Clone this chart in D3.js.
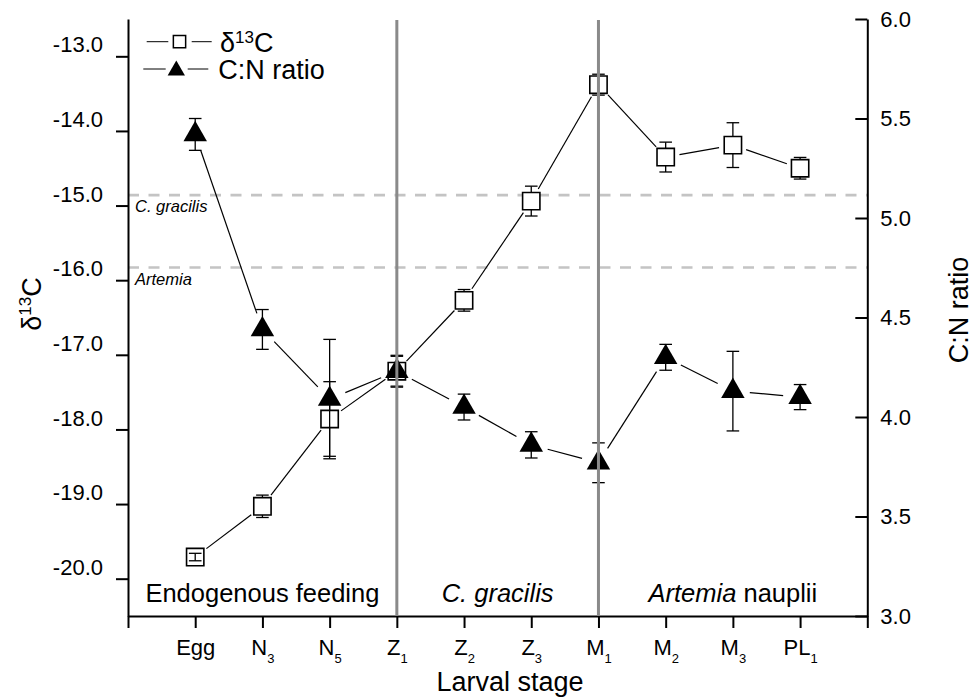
<!DOCTYPE html>
<html>
<head>
<meta charset="utf-8">
<script src="https://cdn.jsdelivr.net/npm/d3@7"></script>
<style>
body { margin: 0; background: #fff; }
svg { font-family: "Liberation Sans", Arial, sans-serif; }
</style>
</head>
<body>
<svg width="975" height="698"></svg>
<script>
// larval stages (base letter + subscript)
var stageBase = ['Egg', 'N', 'N', 'Z', 'Z', 'Z', 'M', 'M', 'M', 'PL'];
var stageSub = ['', '3', '5', '1', '2', '3', '1', '2', '3', '1'];

// delta 13C (left axis) with error
var d13C = [-19.71, -19.03, -17.86, -17.22, -16.27, -14.94, -13.38, -14.35, -14.19, -14.50];
var d13CErr = [0.05, 0.15, 0.50, 0.20, 0.145, 0.20, 0.14, 0.20, 0.30, 0.145];

// C:N ratio (right axis) with error
var cnRatio = [5.42, 4.44, 4.09, 4.23, 4.05, 3.86, 3.77, 4.30, 4.13, 4.10];
var cnErr = [0.08, 0.10, 0.30, 0.08, 0.065, 0.066, 0.10, 0.065, 0.20, 0.063];

// reference diets (d13C) and feeding periods
var dietNames = ['C. gracilis', 'Artemia'];
var dietD13C = [-14.86, -15.83];
var leftTicks = [-20, -19, -18, -17, -16, -15, -14, -13];
var rightTicks = [3.0, 3.5, 4.0, 4.5, 5.0, 5.5, 6.0];
var dividers = [4, 7];   // at Z1 and M1

var svg = d3.select('svg');
var x = d3.scaleLinear().domain([0, 11]).range([128, 867.3]);
var yL = d3.scaleLinear().domain([-20.5, -12.5]).range([616, 19]);
var yR = d3.scaleLinear().domain([3, 6]).range([616, 19]);
var pos = function(i){ return x(i + 1); };

// dashed diet lines
dietD13C.forEach(function(v, i){
	svg.append('line')
		.attr('x1', x(0)).attr('x2', x(11))
		.attr('y1', yL(v)).attr('y2', yL(v))
		.style('stroke', '#c4c4c4').style('stroke-width', 2.6)
		.style('stroke-dasharray', '11,9.5');
	svg.append('text')
		.attr('x', x(0) + 7).attr('y', yL(v) + 17)
		.style('font-size', '16.5px').style('font-style', 'italic')
		.text(dietNames[i]);
});

// period labels
var periods = [[0, 4], [4, 7], [7, 11]];
var periodText = svg.selectAll('.period').data(periods).enter().append('text')
	.attr('x', function(d){ return (x(d[0]) + x(d[1])) / 2; })
	.attr('y', 601.7)
	.attr('text-anchor', 'middle')
	.style('font-size', '25.5px');
periodText.filter(function(d, i){ return i === 0; }).text('Endogenous feeding');
periodText.filter(function(d, i){ return i === 1; }).append('tspan').style('font-style', 'italic').text('C. gracilis');
var p3 = periodText.filter(function(d, i){ return i === 2; });
p3.append('tspan').style('font-style', 'italic').text('Artemia');
p3.append('tspan').text(' nauplii');

// axes
var axL = svg.append('g').attr('transform', 'translate(' + x(0) + ',0)')
	.call(d3.axisLeft(yL).tickValues(leftTicks).tickSize(12).tickSizeOuter(0).tickPadding(13)
		.tickFormat(d3.format('.1f')));
axL.selectAll('text').attr('dy', '-0.2em').style('font-size', '22px').text(function(d){ return d3.format('.1f')(d).replace('−', '-'); });

var axR = svg.append('g').attr('transform', 'translate(' + x(11) + ',0)')
	.call(d3.axisRight(yR).tickValues(rightTicks).tickSize(-12).tickSizeOuter(0).tickPadding(13)
		.tickFormat(d3.format('.1f')));
axR.selectAll('text').style('font-size', '22px');

var axB = svg.append('g').attr('transform', 'translate(0,' + yL(-20.5) + ')')
	.call(d3.axisBottom(x).tickValues(d3.range(0, 12)).tickSize(12).tickSizeOuter(0).tickFormat(''));
axB.selectAll('.tick text').each(function(d){
	var i = d - 1;
	if (i < 0 || i > 9) return;
	var t = d3.select(this).attr('y', 39).attr('dy', 0).style('font-size', '22px');
	t.append('tspan').text(stageBase[i]);
	if (stageSub[i]) t.append('tspan').attr('dy', 8).style('font-size', '13px').text(stageSub[i]);
});
svg.selectAll('.domain').style('stroke-width', 2);
svg.selectAll('.tick line').style('stroke-width', 2);

// axis titles
var tL = svg.append('text').attr('transform', 'translate(41,304) rotate(-90)')
	.attr('text-anchor', 'middle').style('font-size', '27px');
tL.append('tspan').text('δ');
tL.append('tspan').attr('dy', -10).style('font-size', '17px').text('13');
tL.append('tspan').attr('dy', 10).text('C');
svg.append('text').attr('transform', 'translate(968,310) rotate(-90)')
	.attr('text-anchor', 'middle').style('font-size', '27px').text('C:N ratio');
svg.append('text').attr('x', 510).attr('y', 691).attr('text-anchor', 'middle')
	.style('font-size', '27px').text('Larval stage');

// connecting lines with gaps at markers
function connect(vals, y, gap){
	for (var i = 0; i < vals.length - 1; i++) {
		var x1 = pos(i), y1 = y(vals[i]), x2 = pos(i + 1), y2 = y(vals[i + 1]);
		var dx = x2 - x1, dy = y2 - y1, len = Math.sqrt(dx * dx + dy * dy);
		svg.append('line')
			.attr('x1', x1 + dx / len * gap).attr('y1', y1 + dy / len * gap)
			.attr('x2', x2 - dx / len * gap).attr('y2', y2 - dy / len * gap)
			.style('stroke', 'black').style('stroke-width', 1.2);
	}
}
connect(d13C, yL, 14);
connect(cnRatio, yR, 17);

// d13C squares, error bars outside the marker
var half = 8.65;
d13C.forEach(function(v, i){
	var cx = pos(i), cy = yL(v), up = yL(v + d13CErr[i]), dn = yL(v - d13CErr[i]);
	svg.append('path').attr('d', d3.symbol(d3.symbolSquare, 300)())
		.attr('transform', 'translate(' + cx + ',' + cy + ')')
		.style('fill', 'white').style('stroke', 'black').style('stroke-width', 1.6);
	var segs = (cy - up > half) ? [[cy - half, up], [cy + half, dn]] : [[up, dn]];
	segs.forEach(function(s){
		svg.append('line').attr('x1', cx).attr('x2', cx).attr('y1', s[0]).attr('y2', s[1])
			.style('stroke', 'black').style('stroke-width', 1.3);
	});
	[up, dn].forEach(function(yy){
		svg.append('line').attr('x1', cx - 6.3).attr('x2', cx + 6.3).attr('y1', yy).attr('y2', yy)
			.style('stroke', 'black').style('stroke-width', 1.3);
	});
});

// C:N triangles
cnRatio.forEach(function(v, i){
	var cx = pos(i), up = yR(v + cnErr[i]), dn = yR(v - cnErr[i]);
	svg.append('line').attr('x1', cx).attr('x2', cx).attr('y1', up).attr('y2', dn)
		.style('stroke', 'black').style('stroke-width', 1.3);
	[up, dn].forEach(function(yy){
		svg.append('line').attr('x1', cx - 6.3).attr('x2', cx + 6.3).attr('y1', yy).attr('y2', yy)
			.style('stroke', 'black').style('stroke-width', 1.3);
	});
	svg.append('path').attr('d', d3.symbol(d3.symbolTriangle, 239)())
		.attr('transform', 'translate(' + cx + ',' + yR(v) + ')')
		.style('fill', 'black');
});

// stage dividers drawn over the data
dividers.forEach(function(d){
	svg.append('line').attr('x1', x(d)).attr('x2', x(d)).attr('y1', 20).attr('y2', 616)
		.style('stroke', '#8a8a8a').style('stroke-width', 3);
});

// legend
var lg = svg.append('g');
lg.append('line').attr('x1', 146.7).attr('x2', 168.3).attr('y1', 41.7).attr('y2', 41.7).style('stroke', 'black');
lg.append('line').attr('x1', 191.7).attr('x2', 211.7).attr('y1', 41.7).attr('y2', 41.7).style('stroke', 'black');
lg.append('path').attr('d', d3.symbol(d3.symbolSquare, 151)()).attr('transform', 'translate(179.5,41.7)')
	.style('fill', 'white').style('stroke', 'black').style('stroke-width', 1.5);
var l1 = lg.append('text').attr('x', 220).attr('y', 51.7).style('font-size', '27px');
l1.append('tspan').text('δ');
l1.append('tspan').attr('dy', -9).style('font-size', '17px').text('13');
l1.append('tspan').attr('dy', 9).text('C');
lg.append('line').attr('x1', 143.3).attr('x2', 165.7).attr('y1', 69).attr('y2', 69).style('stroke', 'black');
lg.append('line').attr('x1', 187.7).attr('x2', 208.3).attr('y1', 69).attr('y2', 69).style('stroke', 'black');
lg.append('path').attr('d', d3.symbol(d3.symbolTriangle, 130)()).attr('transform', 'translate(176.3,70.5)')
	.style('fill', 'black');
lg.append('text').attr('x', 218.3).attr('y', 79).style('font-size', '27px').text('C:N ratio');
</script>
</body>
</html>
